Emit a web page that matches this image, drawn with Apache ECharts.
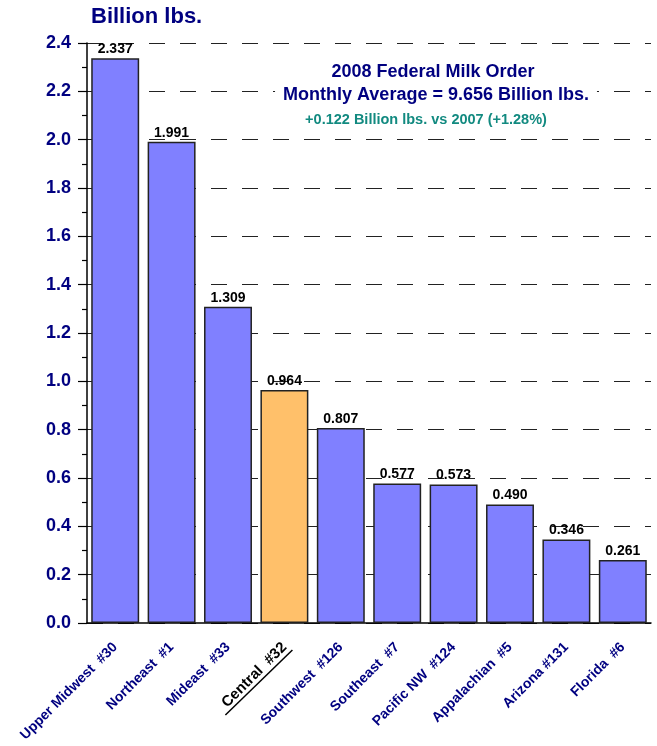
<!DOCTYPE html>
<html><head><meta charset="utf-8">
<script src="https://cdn.jsdelivr.net/npm/echarts@6/dist/echarts.min.js"></script>
<style>html,body{margin:0;padding:0;background:#fff}#c{width:657px;height:746px}</style>
</head><body><div id="c"></div>
<script>
var categories = ['Upper Midwest  #30','Northeast  #1','Mideast  #33','Central  #32','Southwest  #126','Southeast  #7','Pacific NW  #124','Appalachian  #5','Arizona #131','Florida  #6'];
var values = [2.337, 1.991, 1.309, 0.964, 0.807, 0.577, 0.573, 0.490, 0.346, 0.261];
var highlightIndex = 3;
var yTicks = {min: 0, max: 2.4, interval: 0.2};
var unitLabel = 'Billion lbs.';
var noteLines = ['2008 Federal Milk Order', 'Monthly Average = 9.656 Billion lbs.'];
var noteSub = '+0.122 Billion lbs. vs 2007 (+1.28%)';

var FONT = 'Arial, "Liberation Sans", sans-serif';
var NAVY = '#000080';
var chart = echarts.init(document.getElementById('c'));
var data = values.map(function(v, i){
  return {value: v, itemStyle: {color: i === highlightIndex ? '#FFC06A' : '#8080FF'}};
});
chart.setOption({
  animation: false,
  grid: {left: 87, right: 6, top: 43, bottom: 123, containLabel: false},
  title: {text: unitLabel, left: 86, top: 1, textStyle: {fontFamily: FONT, fontWeight: 'bold', fontSize: 22, color: NAVY}},
  xAxis: {
    type: 'category', data: categories,
    axisLine: {lineStyle: {color: '#000', width: 1.5}},
    axisTick: {alignWithLabel: true, length: 8, lineStyle: {color: '#555', width: 1.5}},
    axisLabel: {
      rotate: 45, interval: 0, margin: 22, fontFamily: FONT, fontWeight: 'bold', fontSize: 14, color: NAVY,
      formatter: function(v, i){ return i === highlightIndex ? '{c|' + v + '}' : v; },
      rich: {c: {color: '#000', fontFamily: FONT, fontWeight: 'bold', fontSize: 15}}
    }
  },
  yAxis: {
    type: 'value', min: yTicks.min, max: yTicks.max, interval: yTicks.interval,
    axisLine: {show: true, lineStyle: {color: '#000', width: 1.5}},
    axisTick: {show: true, length: 9, lineStyle: {color: '#000', width: 1.2}},
    minorTick: {show: true, splitNumber: 2, length: 5, lineStyle: {color: '#000', width: 1.2}},
    splitLine: {show: true, lineStyle: {color: '#222', width: 1, type: [16, 15]}},
    axisLabel: {margin: 16, fontFamily: FONT, fontWeight: 'bold', fontSize: 18, color: NAVY,
      formatter: function(v){ return v.toFixed(1); }}
  },
  series: [{
    type: 'bar', data: data, barCategoryGap: '15%',
    itemStyle: {borderColor: '#222', borderWidth: 1.5},
    label: {show: true, position: 'top', distance: 2, fontFamily: FONT, fontWeight: 'bold', fontSize: 14, color: '#000',
      formatter: function(p){ return p.value.toFixed(3); }}
  }]
});
var elems = [
  {type: 'text', x: 433, y: 72, z: 100, style: {text: noteLines[0], fill: NAVY, font: 'bold 18px ' + FONT, align: 'center', verticalAlign: 'middle'}},
  {type: 'text', x: 436, y: 95, z: 100, style: {text: noteLines[1], fill: NAVY, font: 'bold 18px ' + FONT, align: 'center', verticalAlign: 'middle', backgroundColor: '#fff', padding: [2, 8]}},
  {type: 'text', x: 426, y: 120, z: 100, style: {text: noteSub, fill: '#128A80', font: 'bold 14.5px ' + FONT, align: 'center', verticalAlign: 'middle'}}
];
var p = chart.convertToPixel({xAxisIndex: 0, yAxisIndex: 0}, [highlightIndex, 0]);
elems.push({type: 'line', z: 100, shape: {x1: p[0] - 59, y1: p[1] + 92, x2: p[0] + 8, y2: p[1] + 27}, style: {stroke: '#000', lineWidth: 1.5}});
chart.setOption({graphic: elems});
</script></body></html>
